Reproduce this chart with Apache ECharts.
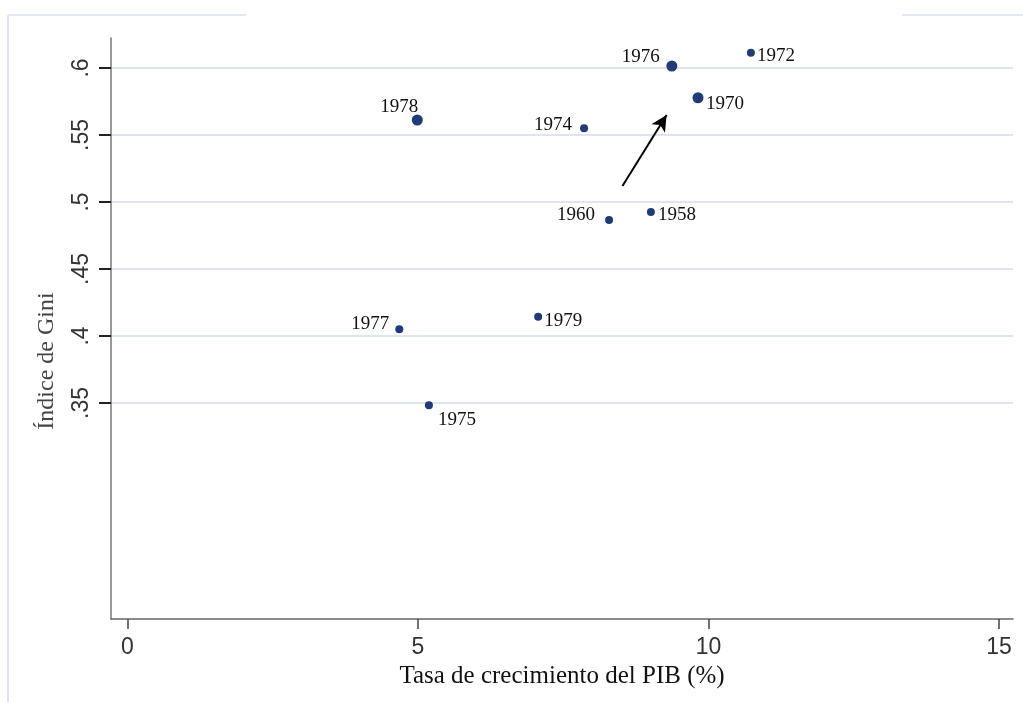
<!DOCTYPE html>
<html>
<head>
<meta charset="utf-8">
<script src="https://cdn.jsdelivr.net/npm/echarts@6/dist/echarts.min.js"></script>
<style>
html,body{margin:0;padding:0;background:#fff;}
#chart{width:1023px;height:702px;}
</style>
</head>
<body>
<div id="chart"></div>
<script>
// ---- data ----
const years  = ['1958','1960','1970','1972','1974','1975','1976','1977','1978','1979'];
const growth = [9.01, 8.29, 9.82, 10.73, 7.86, 5.19, 9.37, 4.68, 4.99, 7.07];
const gini   = [0.4925, 0.4866, 0.5778, 0.6114, 0.555, 0.3483, 0.6015, 0.405, 0.5612, 0.4144];
const xTicks = [0, 5, 10, 15];
const yTicks = [0.35, 0.4, 0.45, 0.5, 0.55, 0.6];
const arrowFrom = [8.52, 0.512];
const arrowTo   = [9.28, 0.565];
const xTitle = 'Tasa de crecimiento del PIB (%)';
const yTitle = 'Índice de Gini';
const xMin = -0.28, xMax = 15.24, yMin = 0.1888, yMax = 0.6224;

// ---- styling (label placement per year, marker sizes) ----
const labelOffset = {
  '1958': [26, 3], '1960': [-33, -5], '1970': [27, 6], '1972': [25, 3],
  '1974': [-31, -3], '1975': [28, 15], '1976': [-31, -9], '1977': [-29, -5],
  '1978': [-18, -13], '1979': [25, 4]
};
const bigMarkers = ['1976', '1970', '1978'];

const points = years.map((y, i) => ({
  value: [growth[i], gini[i]],
  name: y,
  symbolSize: bigMarkers.includes(y) ? 11 : 8,
  label: { offset: labelOffset[y] }
}));

const chart = echarts.init(document.getElementById('chart'), null, {renderer: 'canvas'});
chart.setOption({
  animation: false,
  backgroundColor: '#ffffff',
  grid: { left: 111, right: 10, top: 38, bottom: 83, containLabel: false },
  xAxis: {
    type: 'value', min: xMin, max: xMax,
    name: xTitle, nameLocation: 'middle', nameGap: 40,
    nameTextStyle: { fontFamily: 'Liberation Serif', fontSize: 25, color: '#111' },
    axisLine: { show: true, onZero: false, lineStyle: { color: '#666', width: 1.5 } },
    axisTick: { show: true, length: 10, customValues: xTicks, lineStyle: { color: '#444', width: 1.5 } },
    axisLabel: { customValues: xTicks, margin: 17, fontFamily: 'Liberation Sans', fontSize: 23, color: '#333' },
    splitLine: { show: false }
  },
  yAxis: {
    type: 'value', min: yMin, max: yMax,
    axisLine: { show: true, onZero: false, lineStyle: { color: '#777', width: 1.5 } },
    axisTick: { show: true, length: 12, customValues: yTicks, lineStyle: { color: '#333', width: 1.5 } },
    axisLabel: {
      customValues: yTicks, rotate: 90, margin: 18,
      fontFamily: 'Liberation Sans', fontSize: 23, color: '#333',
      formatter: v => String(+v.toFixed(2)).replace(/^0/, '')
    },
    splitLine: { show: true, lineStyle: { color: '#dfe4f1', width: 2 } }
  },
  graphic: [
    { type: 'line', shape: { x1: 8, y1: 15, x2: 246, y2: 15 }, style: { stroke: '#e3e7f4', lineWidth: 2 }, silent: true },
    { type: 'line', shape: { x1: 902, y1: 15, x2: 1023, y2: 15 }, style: { stroke: '#e3e7f4', lineWidth: 2 }, silent: true },
    { type: 'line', shape: { x1: 8, y1: 15, x2: 8, y2: 702 }, style: { stroke: '#e3e7f4', lineWidth: 2 }, silent: true },
    { type: 'text', x: 47, y: 361, rotation: Math.PI / 2,
      style: { text: yTitle, font: '24px "Liberation Serif"', fill: '#444', align: 'center', verticalAlign: 'middle' } }
  ],
  series: [{
    type: 'scatter',
    data: points,
    symbol: 'circle',
    z: 3,
    itemStyle: { color: '#1f3b78', opacity: 1 },
    label: {
      show: true, position: 'inside',
      formatter: p => p.name,
      fontFamily: 'Liberation Serif', fontSize: 19, color: '#111',
      align: 'center', verticalAlign: 'middle'
    },
    markLine: {
      silent: true, symbol: ['none', 'arrow'], symbolSize: [12, 16],
      lineStyle: { color: '#000', width: 2, type: 'solid' },
      label: { show: false },
      data: [[{ coord: arrowFrom }, { coord: arrowTo }]]
    }
  }, {
    // y-axis tick marks (outside, left of the axis line)
    type: 'custom',
    clip: false,
    silent: true,
    z: 5,
    data: yTicks.map(v => [xMin, v]),
    renderItem: (params, api) => {
      const p = api.coord([api.value(0), api.value(1)]);
      return {
        type: 'line',
        shape: { x1: p[0] - 12, y1: p[1], x2: p[0], y2: p[1] },
        style: { stroke: '#222', lineWidth: 2 }
      };
    }
  }]
});
</script>
</body>
</html>
